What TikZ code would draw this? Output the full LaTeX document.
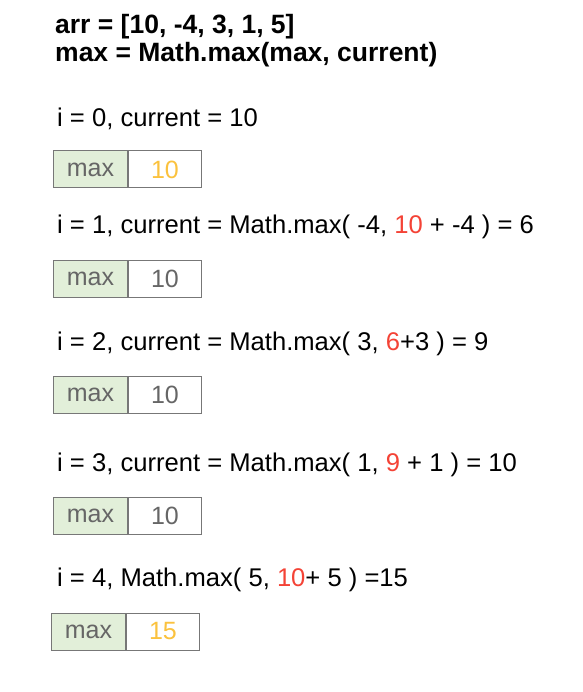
\documentclass[tikz,border=0pt]{standalone}
\usepackage{fontspec}
\setmainfont{Liberation Sans}
\definecolor{boxgreen}{HTML}{E2EFD9}
\definecolor{boxline}{HTML}{777777}
\definecolor{txtgray}{HTML}{666666}
\definecolor{valorange}{HTML}{FBC23E}
\definecolor{hired}{HTML}{F44336}
\begin{document}
\begin{tikzpicture}[x=1pt,y=-1pt,
  line/.style={anchor=base west,inner sep=0pt,font=\fontsize{25.6}{28}\selectfont},
  title/.style={anchor=base west,inner sep=0pt,font=\fontsize{26.5}{28}\selectfont\bfseries},
  keycell/.style={draw=boxline,line width=1pt,fill=boxgreen,minimum width=74pt,minimum height=37pt,inner sep=0pt,anchor=west,text=txtgray,font=\fontsize{25}{28}\selectfont},
  valcell/.style={draw=boxline,line width=1pt,fill=white,minimum width=73pt,minimum height=37pt,inner sep=0pt,anchor=west,font=\fontsize{25}{28}\selectfont}]
\useasboundingbox[fill=white] (0,0) rectangle (582,692);
\node[title] (t1) at (55,34) {arr = [10, -4, 3, 1, 5]};
\node[title] (t2) at (55,62) {max = Math.max(max, current)};
\node[line] (l0) at (57,126.5) {i = 0, current = 10};
\node[keycell] (k0) at (53,169.5) {max};
\node[valcell,text=valorange] (v0) at (k0.east) {10};
\node[line] (l1) at (57,233.5) {i = 1, current = Math.max( -4, \textcolor{hired}{10} + -4 ) = 6};
\node[keycell] (k1) at (53,278.5) {max};
\node[valcell,text=txtgray] (v1) at (k1.east) {10};
\node[line] (l2) at (57,350.5) {i = 2, current = Math.max( 3, \textcolor{hired}{6}+3 ) = 9};
\node[keycell] (k2) at (53,394.5) {max};
\node[valcell,text=txtgray] (v2) at (k2.east) {10};
\node[line] (l3) at (57,471.5) {i = 3, current = Math.max( 1, \textcolor{hired}{9} + 1 ) = 10};
\node[keycell] (k3) at (53,515.5) {max};
\node[valcell,text=txtgray] (v3) at (k3.east) {10};
\node[line] (l4) at (57,586.5) {i = 4, Math.max( 5, \textcolor{hired}{10}+ 5 ) =15};
\node[keycell] (k4) at (51,631.5) {max};
\node[valcell,text=valorange] (v4) at (k4.east) {15};
\end{tikzpicture}
\end{document}
